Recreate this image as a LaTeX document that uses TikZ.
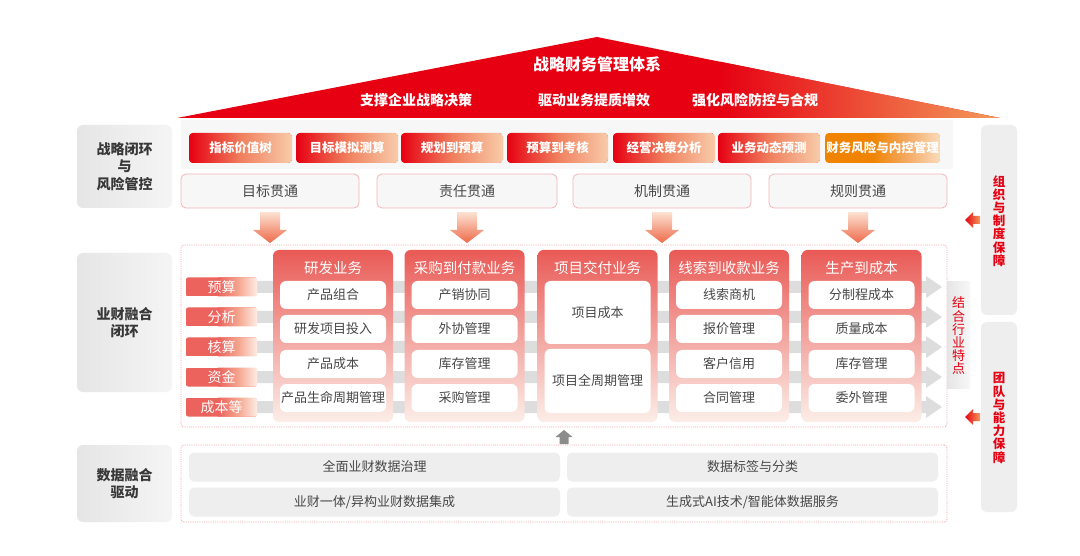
\documentclass[tikz,border=0pt]{standalone}
\usepackage{fontspec}
\setmainfont{Noto Sans CJK SC}
\definecolor{cRed}{HTML}{E60012}
\definecolor{cRoofR}{HTML}{F39A5A}
\definecolor{cBtnM}{HTML}{F0805E}
\definecolor{cPeach}{HTML}{F8CDAB}
\definecolor{cOrange}{HTML}{F08300}
\definecolor{cOrgM}{HTML}{F4A860}
\definecolor{cPeachL}{HTML}{FADCBE}
\definecolor{cSalmon}{HTML}{EC635E}
\definecolor{cMiniM}{HTML}{F4A58E}
\definecolor{cMiniR}{HTML}{FEF1EA}
\definecolor{cColT}{HTML}{E95A56}
\definecolor{cColM}{HTML}{F08C70}
\definecolor{cColB}{HTML}{FCEEE8}
\definecolor{cTxt}{HTML}{474747}
\definecolor{cLab}{HTML}{383838}
\definecolor{cPink}{HTML}{F2A3A8}
\definecolor{cBand}{HTML}{DDDDDD}
\definecolor{cBox}{HTML}{EEEEEE}
\definecolor{cPanel}{HTML}{F7F7F7}
\definecolor{cArrT}{HTML}{FCE2D2}
\definecolor{cArrB}{HTML}{EE6A4A}
% x1 y1 x2 y2 basecolor gradientstyle radius startfraction
\newcommand{\gfill}[8]{%
  \begin{scope}
    \clip[rounded corners=#7pt] (#1,#2) rectangle (#3,#4);
    \fill[#5] (#1,#2) rectangle (#3,#4);
    \path[#6] ({#1+#8*(#3-#1)},#2) rectangle ({#3+1},#4);
  \end{scope}}
\begin{document}
\begin{tikzpicture}[x=1pt,y=-1pt,
  every node/.style={inner sep=0pt, outer sep=0pt},
  btngrad/.style={left color=cRed, right color=cPeach, middle color=cBtnM},
  orggrad/.style={left color=cOrange, right color=cPeachL, middle color=cOrgM},
  minigrad/.style={left color=cSalmon, right color=cMiniR, middle color=cMiniM},
  btntext/.style={minimum height=30pt, text=white, font=\bfseries\fontsize{12.5pt}{14pt}\selectfont},
  crossbox/.style={draw=cPink!80, line width=0.8pt, fill=cPanel, rounded corners=5pt, minimum width=178pt, minimum height=34pt, text=cTxt, font=\fontsize{14pt}{16pt}\selectfont},
  leftlab/.style={left color=black!10, right color=black!4, rounded corners=6pt, minimum width=95pt, text=cLab, align=center, font=\bfseries\fontsize{14pt}{17.5pt}\selectfont},
  rightlab/.style={fill=cBox, rounded corners=6pt, minimum width=36pt},
  vtext/.style={text=cRed, align=center, font=\bfseries\fontsize{12.5pt}{13.2pt}\selectfont},
  minitext/.style={minimum width=71pt, minimum height=19pt, text=white, font=\fontsize{14pt}{16pt}\selectfont},
  colpanel/.style={top color=cColT, middle color=cColM, bottom color=cColB, rounded corners=6pt, minimum width=120pt, minimum height=172pt, anchor=north},
  colhead/.style={text=white, font=\fontsize{14.5pt}{16pt}\selectfont},
  subbox/.style={fill=white, rounded corners=6pt, minimum width=106pt, minimum height=28pt, text=cTxt, font=\fontsize{13pt}{15pt}\selectfont},
  datbox/.style={fill=cBox, rounded corners=5pt, minimum width=371pt, minimum height=29pt, text=cTxt, font=\fontsize{13pt}{15pt}\selectfont},
  dotbox/.style={draw=cPink, densely dotted, line width=0.8pt, rounded corners=3pt, anchor=north west},
  roofttl/.style={text=white, font=\bfseries\fontsize{16pt}{18pt}\selectfont},
  roofsub/.style={text=white, font=\bfseries\fontsize{14pt}{16pt}\selectfont},
  downarr/.pic={\path[top color=cArrT, bottom color=cArrB] (-10,4) -- (10,4) -- (10,22) -- (17,22) -- (0,35) -- (-17,22) -- (-10,22) -- cycle;},
  leftarr/.pic={\path[left color=cRed, right color=cRoofR] (-16,0) -- (-8,-8) -- (-8,-4) -- (-1,-4) -- (-1,4) -- (-8,4) -- (-8,8) -- cycle;}
]
\useasboundingbox (0,0) rectangle (1080,556);
\fill[white] (0,0) rectangle (1080,556);

% roof
\fill[cRed] (177,118) -- (597,37) -- (1000,118) -- cycle;
\begin{scope}
  \clip (177,118) -- (597,37) -- (1000,118) -- cycle;
  \path[left color=cRed, right color=cRoofR] (720,30) rectangle (1001,119);
\end{scope}
\node[roofttl] (title) at (597,64) {战略财务管理体系};
\node[roofsub] (s1) at (416,100) {支撑企业战略决策};
\node[roofsub] (s2) at (594,100) {驱动业务提质增效};
\node[roofsub] (s3) at (755,100) {强化风险防控与合规};

% left labels
\node[leftlab, minimum height=83pt] (L1) at (124.5,166.5) {战略闭环\\与\\风险管控};
\node[leftlab, minimum height=139pt] (L2) at (124.5,322.5) {业财融合\\闭环};
\node[leftlab, minimum height=77pt] (L3) at (124.5,483.5) {数据融合\\驱动};

% top panel with buttons
\fill[cPanel] (181,120) rectangle (953,169);
\foreach \cx/\w/\t [count=\i] in {240.5/103/指标价值树, 347/102/目标模拟测算, 452/102/规划到预算, 557.5/101/预算到考核, 664/102/经营决策分析, 769/102/业务动态预测}{
  \gfill{\cx-\w/2}{133}{\cx+\w/2}{163}{cRed}{btngrad}{4}{0.4}
  \node[btntext, minimum width=\w pt] (b\i) at (\cx,148) {\t};
}
\gfill{825}{133}{940}{163}{cOrange}{orggrad}{4}{0.4}
\node[btntext, minimum width=115pt] (b7) at (882.5,148) {财务风险与内控管理};

% cross boxes
\node[crossbox] (t1) at (270,191) {目标贯通};
\node[crossbox, minimum width=180pt] (t2) at (467,191) {责任贯通};
\node[crossbox] (t3) at (662,191) {机制贯通};
\node[crossbox] (t4) at (858,191) {规则贯通};
\foreach \t in {t1,t2,t3,t4} \pic at (\t.south) {downarr};

% middle area
\node[dotbox, minimum width=766pt, minimum height=182pt] (mid) at (181,245) {};
\foreach \y in {287,317,347,377,407}
  \fill[cBand] (255,\y-6) -- (926,\y-6) -- (926,\y-11) -- (942,\y) -- (926,\y+11) -- (926,\y+6) -- (255,\y+6) -- cycle;
\foreach \y/\t [count=\i] in {287/预算, 317/分析, 347/核算, 377/资金, 407/成本等}{
  \gfill{186}{\y-9.5}{257}{\y+9.5}{cSalmon}{minigrad}{2}{0.45}
  \node[minitext] (m\i) at (221.5,\y) {\t};
}

% column 1
\node[colpanel] (c1) at (333,250) {};
\node[colhead] (c1h) at (333,268) {研发业务};
\node[subbox] (c1a) at (333,295) {产品组合};
\node[subbox] (c1b) at (333,329) {研发项目投入};
\node[subbox] (c1c) at (333,364) {产品成本};
\node[subbox] (c1d) at (333,398) {产品生命周期管理};
% column 2
\node[colpanel] (c2) at (464.5,250) {};
\node[colhead] (c2h) at (464.5,268) {采购到付款业务};
\node[subbox] (c2a) at (464.5,295) {产销协同};
\node[subbox] (c2b) at (464.5,329) {外协管理};
\node[subbox] (c2c) at (464.5,364) {库存管理};
\node[subbox] (c2d) at (464.5,398) {采购管理};
% column 3
\node[colpanel] (c3) at (597.5,250) {};
\node[colhead] (c3h) at (597.5,268) {项目交付业务};
\node[subbox, minimum height=63pt] (c3a) at (597.5,312.5) {项目成本};
\node[subbox, minimum height=64pt] (c3b) at (597.5,381) {项目全周期管理};
% column 4
\node[colpanel] (c4) at (729,250) {};
\node[colhead] (c4h) at (729,268) {线索到收款业务};
\node[subbox] (c4a) at (729,295) {线索商机};
\node[subbox] (c4b) at (729,329) {报价管理};
\node[subbox] (c4c) at (729,364) {客户信用};
\node[subbox] (c4d) at (729,398) {合同管理};
% column 5
\node[colpanel] (c5) at (861.5,250) {};
\node[colhead] (c5h) at (861.5,268) {生产到成本};
\node[subbox] (c5a) at (861.5,295) {分制程成本};
\node[subbox] (c5b) at (861.5,329) {质量成本};
\node[subbox] (c5c) at (861.5,364) {库存管理};
\node[subbox] (c5d) at (861.5,398) {委外管理};

% industry label
\node[left color=black!10, right color=black!3, minimum width=23pt, minimum height=106pt] (ind) at (958.5,335) {};
\node[text=cRed, align=center, font=\fontsize{13pt}{13.2pt}\selectfont] (indt) at (958.5,336) {结\\合\\行\\业\\特\\点};

% right labels
\node[rightlab, minimum height=190pt] (r1) at (999,220) {};
\node[vtext] (r1t) at (999,221) {组\\织\\与\\制\\度\\保\\障};
\node[rightlab, minimum height=190pt] (r2) at (999,417) {};
\node[vtext] (r2t) at (999,418) {团\\队\\与\\能\\力\\保\\障};
\pic at (r1.west) {leftarr};
\pic at (r2.west) {leftarr};

% bottom data area
\node[dotbox, minimum width=766pt, minimum height=77pt] (bot) at (181,445) {};
\node[datbox] (d1) at (374.5,467) {全面业财数据治理};
\node[datbox] (d2) at (374.5,502) {业财一体/异构业财数据集成};
\node[datbox] (d3) at (752.5,467) {数据标签与分类};
\node[datbox] (d4) at (752.5,502) {生成式AI技术/智能体数据服务};
\coordinate (up) at (564,444);
\fill[black!45] (up) ++(-4.5,0) -- ++(0,-7) -- ++(-4,0) -- (564,430) -- (572.5,437) -- (568.5,437) -- (568.5,444) -- cycle;
\end{tikzpicture}
\end{document}
